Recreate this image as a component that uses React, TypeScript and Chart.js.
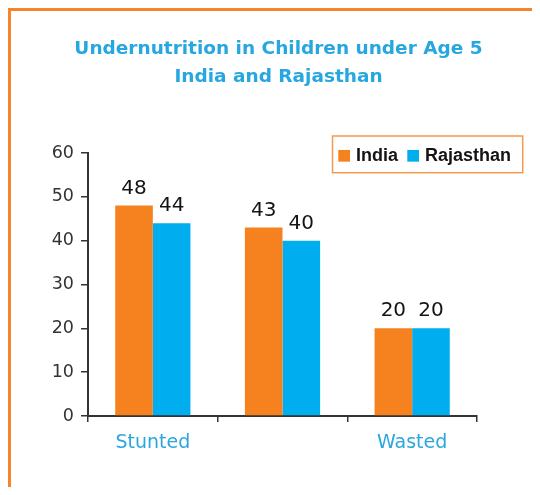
import React, { useEffect, useRef } from 'react';
import { Chart, registerables } from 'chart.js';

Chart.register(...registerables);

const TITLE_LINES = ['Undernutrition in Children under Age 5', 'India and Rajasthan'];
const CATEGORIES = ['Stunted', '', 'Wasted'];
const SERIES_NAMES = ['India', 'Rajasthan'];
const INDIA = [48, 43, 20];
const RAJASTHAN = [44, 40, 20];
const Y_MIN = 0;
const Y_MAX = 60;
const Y_STEP = 10;

const ORANGE = '#f5821f';
const BLUE = '#00adef';
const TITLE_BLUE = '#27a7df';
const AXIS = '#333333';

// Two-line heading centred on the full canvas width
const centredTitle = {
  id: 'centredTitle',
  afterDraw(chart: any) {
    const { ctx } = chart;
    ctx.save();
    ctx.font = 'bold 18.5px "DejaVu Sans"';
    ctx.fillStyle = TITLE_BLUE;
    ctx.textAlign = 'center';
    ctx.textBaseline = 'middle';
    TITLE_LINES.forEach((line, i) => {
      ctx.fillText(line, chart.width / 2, 38 + i * 28);
    });
    ctx.restore();
  },
};

// Values printed above every bar
const valueLabels = {
  id: 'valueLabels',
  afterDatasetsDraw(chart: any) {
    const { ctx } = chart;
    ctx.save();
    ctx.font = '20px "DejaVu Sans"';
    ctx.fillStyle = '#141414';
    ctx.textAlign = 'center';
    ctx.textBaseline = 'alphabetic';
    chart.data.datasets.forEach((ds: any, i: number) => {
      const meta = chart.getDatasetMeta(i);
      meta.data.forEach((bar: any, j: number) => {
        ctx.fillText(String(ds.data[j]), bar.x, bar.y - 12);
      });
    });
    ctx.restore();
  },
};

// Boxed legend sitting in the top-right corner of the plot
const boxedLegend = {
  id: 'boxedLegend',
  afterDraw(chart: any) {
    const { ctx, chartArea } = chart;
    ctx.save();
    ctx.font = 'bold 18px "Liberation Sans"';
    const left = chartArea.right - 144.5;
    const top = chartArea.top - 17;
    const sq = 11.7;
    const padL = 5.8;
    const padR = 11.7;
    const gapText = 6;
    const gapItem = 9.3;
    let x = left + padL;
    const midY = top + 19;
    chart.data.datasets.forEach((ds: any, i: number) => {
      ctx.fillStyle = ds.backgroundColor;
      ctx.fillRect(x, midY - sq / 2 + 0.8, sq, sq);
      x += sq + gapText;
      ctx.fillStyle = '#141414';
      ctx.textAlign = 'left';
      ctx.textBaseline = 'middle';
      ctx.fillText(ds.label, x, midY + 1);
      x += ctx.measureText(ds.label).width;
      if (i < chart.data.datasets.length - 1) x += gapItem;
    });
    const width = x + padR - left;
    ctx.strokeStyle = '#f39a4c';
    ctx.lineWidth = 1.5;
    ctx.strokeRect(left, top, width, 36.7);
    ctx.restore();
  },
};

export default function App() {
  const canvasRef = useRef<HTMLCanvasElement | null>(null);

  useEffect(() => {
    if (!canvasRef.current) return;
    const chart = new Chart(canvasRef.current, {
      type: 'bar',
      data: {
        labels: CATEGORIES,
        datasets: [
          {
            label: SERIES_NAMES[0],
            data: INDIA,
            backgroundColor: ORANGE,
            barPercentage: 1,
            categoryPercentage: 0.58,
          },
          {
            label: SERIES_NAMES[1],
            data: RAJASTHAN,
            backgroundColor: BLUE,
            barPercentage: 1,
            categoryPercentage: 0.58,
          },
        ],
      },
      options: {
        responsive: false,
        animation: false,
        devicePixelRatio: 1,
        layout: { padding: { left: 0, right: 69, top: 142, bottom: 0 } },
        plugins: {
          legend: { display: false },
          tooltip: { enabled: false },
          title: { display: false },
        },
        scales: {
          x: {
            grid: {
              drawOnChartArea: false,
              offset: true,
              tickLength: 6,
              color: AXIS,
              lineWidth: 1.5,
            },
            border: { color: AXIS, width: 2 },
            ticks: {
              color: '#2ba6de',
              font: { family: 'DejaVu Sans', size: 19 },
              padding: 10,
              maxRotation: 0,
              autoSkip: false,
            },
            afterFit: (scale: any) => {
              scale.height = 71;
            },
          },
          y: {
            min: Y_MIN,
            max: Y_MAX,
            ticks: {
              stepSize: Y_STEP,
              color: AXIS,
              font: { family: 'DejaVu Sans', size: 17.5 },
              padding: 7,
            },
            grid: {
              drawOnChartArea: false,
              tickLength: 7,
              color: AXIS,
              lineWidth: 1.5,
            },
            border: { color: AXIS, width: 2 },
            afterFit: (scale: any) => {
              scale.width = 77;
            },
          },
        },
      },
      plugins: [valueLabels, boxedLegend, centredTitle],
    });
    return () => chart.destroy();
  }, []);

  return (
    <div
      style={{
        width: 529,
        height: 476,
        borderTop: '3px solid #f5842a',
        borderLeft: '3px solid #f5842a',
        overflow: 'hidden',
        background: '#ffffff',
      }}
    >
      <canvas ref={canvasRef} width={535} height={476} style={{ display: 'block' }} />
    </div>
  );
}
